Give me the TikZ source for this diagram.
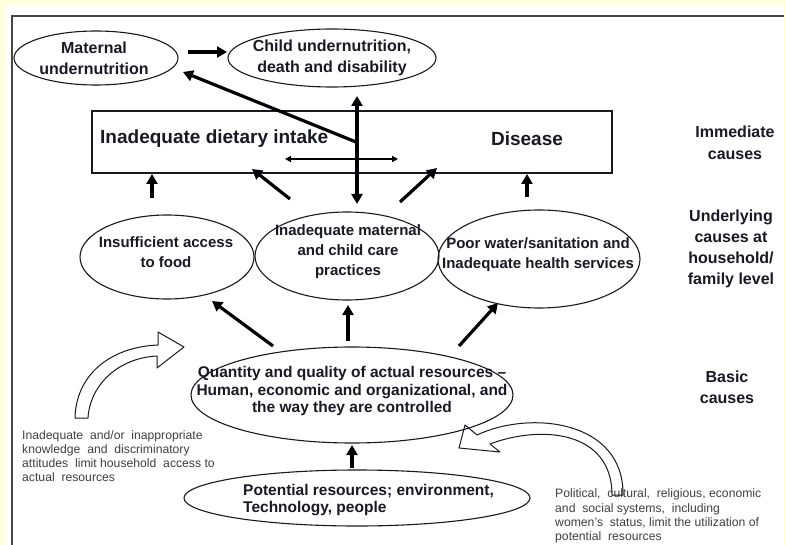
\documentclass[tikz,border=0pt]{standalone}
\usepackage{fontspec}
\setmainfont{Liberation Sans}
\usetikzlibrary{arrows.meta,shapes.geometric}
\definecolor{pageyellow}{RGB}{255,255,222}
\definecolor{framegray}{RGB}{70,70,70}
\definecolor{inkblack}{RGB}{25,25,35}

\begin{document}
\begin{tikzpicture}[x=1pt,y=-1pt,
  oval/.style={draw=inkblack,line width=1.1pt,ellipse,inner sep=0pt},
  bigarrow/.style={line width=3.2pt,-{Triangle[length=10pt,width=11pt]}},
  bothbig/.style={line width=3.2pt,{Triangle[length=10pt,width=11pt]}-{Triangle[length=10pt,width=11pt]}},
  thinboth/.style={line width=1.6pt,{Triangle[length=6pt,width=6pt]}-{Triangle[length=6pt,width=6pt]}},
  labeltext/.style={font=\fontsize{16}{21}\selectfont\bfseries,align=center,text=inkblack,inner sep=0pt},
  midtext/.style={font=\fontsize{15}{20}\selectfont\bfseries,align=center,text=inkblack,inner sep=0pt},
  smalltext/.style={font=\fontsize{12.2}{14.2}\selectfont,align=left,text=black!75,inner sep=0pt,anchor=west},
  blockarrow/.style={draw=inkblack,line width=1pt,line join=round}]
\useasboundingbox (0,0) rectangle (786,545);
\fill[pageyellow] (0,0) rectangle (786,545);
\fill[white] (5,5) rectangle (784,545);
\draw[framegray,line width=1.5pt] (12,545) -- (12,16) -- (784,16);

% outcome
\node[oval,minimum width=164pt,minimum height=54pt] (maternal) at (96,58) {};
\node[labeltext] (maternal-text) at (94,58) {Maternal\\undernutrition};
\node[oval,minimum width=208pt,minimum height=58pt] (child) at (332,58) {};
\node[labeltext] (child-text) at (332,58) {Child undernutrition,\\death and disability};

% immediate causes
\node[draw=inkblack,line width=1.1pt,minimum width=520pt,minimum height=62pt,inner sep=0pt] (immediate) at (352,142) {};
\node[labeltext,font=\fontsize{19}{23}\selectfont\bfseries,anchor=west] (intake) at (100,139) {Inadequate dietary intake};
\node[labeltext,font=\fontsize{19}{23}\selectfont\bfseries] (disease) at (527,139) {Disease};

% underlying causes
\node[oval,minimum width=174pt,minimum height=84pt] (food) at (167,257) {};
\node[midtext] (food-text) at (166,252) {Insufficient access\\to food};
\node[oval,minimum width=184pt,minimum height=88pt] (care) at (347,256) {};
\node[midtext] (care-text) at (348,252) {Inadequate maternal\\and child care\\practices};
\node[oval,minimum width=202pt,minimum height=98pt] (water) at (539,259) {};
\node[midtext] (water-text) at (538,255) {Poor water/sanitation and\\Inadequate health services};

% basic causes
\node[oval,minimum width=322pt,minimum height=96pt] (basic) at (352,395) {};
\node[midtext,font=\fontsize{15.5}{17.5}\selectfont\bfseries] (basic-text) at (352,391) {Quantity and quality of actual resources --\\Human, economic and organizational, and\\the way they are controlled};
\node[oval,minimum width=346pt,minimum height=56pt] (potential) at (357,498) {};
\node[labeltext,font=\fontsize{15.5}{17}\selectfont\bfseries,align=left,anchor=west] (potential-text) at (243,500) {Potential resources; environment,\\Technology, people};

% level labels
\node[labeltext,font=\fontsize{16}{22}\selectfont\bfseries] (level-1) at (735,143) {Immediate\\causes};
\node[labeltext,font=\fontsize{16}{21}\selectfont\bfseries] (level-2) at (731,249) {Underlying\\causes at\\household/\\family level};
\node[labeltext,font=\fontsize{16}{21}\selectfont\bfseries] (level-3) at (727,387) {Basic\\causes};

% side notes
\node[smalltext] (note-left) at (22,456) {Inadequate \ and/or \ inappropriate\\knowledge \ and \ discriminatory\\attitudes \ limit household \ access to\\actual \ resources};
\node[smalltext] (note-right) at (555,516) {Political, \ cultural, \ religious, economic\\and \ social systems, \ including\\women's \ status, limit the utilization of\\potential \ resources};

% arrows at the top
\coordinate (M-1) at (188,52);
\coordinate (C-1) at (227,52);
\draw[bigarrow] (M-1) -- (C-1);
\coordinate (D-1) at (356,142);
\coordinate (D-2) at (183,72);
\draw[bigarrow] (D-1) -- (D-2);
\coordinate (V-1) at (357,96);
\coordinate (V-2) at (357,204);
\draw[bothbig] (V-1) -- (V-2);
\coordinate (H-1) at (285,159);
\coordinate (H-2) at (398,159);
\draw[thinboth] (H-1) -- (H-2);

% underlying -> immediate
\foreach \x/\y/\u/\v [count=\i] in {152/198/152/174, 290/199/252/169, 400/202/437/168, 527/197/527/174}{
  \coordinate (A-\i) at (\x,\y);
  \coordinate (B-\i) at (\u,\v);
  \draw[bigarrow] (A-\i) -- (B-\i);
}
% basic -> underlying
\foreach \x/\y/\u/\v [count=\i] in {273/346/212/301, 348/341/348/305, 459/346/498/303, 352/468/352/445}{
  \coordinate (P-\i) at (\x,\y);
  \coordinate (Q-\i) at (\u,\v);
  \draw[bigarrow] (P-\i) -- (Q-\i);
}

% curved block arrows
\draw[blockarrow] (75,418) .. controls (76,375) and (110,347) .. (158,345) -- (158,332) -- (184,347)
  -- (157,368) -- (157,356) .. controls (118,358) and (90,385) .. (88,418) -- cycle;
\draw[blockarrow] (490,444) .. controls (540,425) and (612,430) .. (612,495) -- (623,495)
  .. controls (624,420) and (530,410) .. (477,435) -- (465,425) -- (459,448) -- (500,452) -- cycle;
\end{tikzpicture}
\end{document}
